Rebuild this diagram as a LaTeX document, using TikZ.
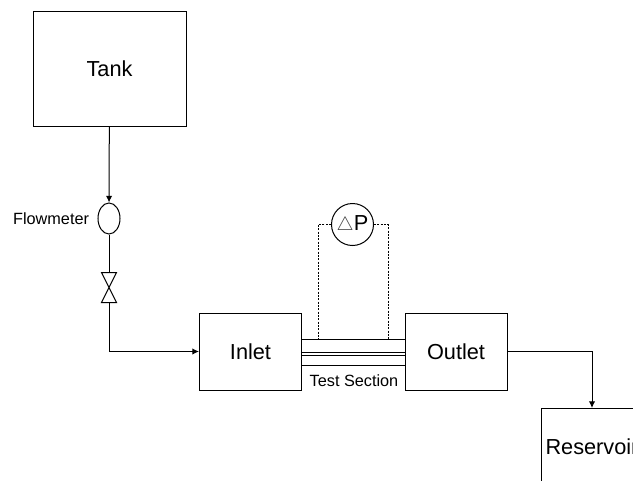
\documentclass[tikz,border=0pt]{standalone}
\usepackage{fontspec}
\setmainfont{Liberation Sans}
\usetikzlibrary{arrows.meta,shapes,positioning,calc}

\tikzset{
  unitbox/.style={rectangle, draw=black, minimum width=76.5pt, minimum height=57.75pt, inner sep=0pt, font=\fontsize{16.3}{18}\selectfont},
  smalltext/.style={inner sep=0pt, font=\fontsize{12.2}{14}\selectfont},
}

\begin{document}
\begin{tikzpicture}[x=0.75pt, y=-0.75pt, >={Latex[length=5pt,width=4.75pt]}, line width=0.75pt]
  \useasboundingbox (0,0) rectangle (633,480);
  \clip (0,0) rectangle (633,480);

  \node[unitbox, minimum width=114.75pt, minimum height=86.25pt] at (109.5,68.5) (tank) {Tank};
  \node[ellipse, draw=black, minimum width=16.5pt, minimum height=23.25pt, inner sep=0pt] at (109,218.5) (fm) {};
  \node[smalltext, left=6pt of fm] (fmlabel) {Flowmeter};
  \node[rectangle, minimum width=10.5pt, minimum height=21.75pt, inner sep=0pt] at (109,287.5) (valve) {};
  \node[unitbox] at (250.5,351.5) (inlet) {Inlet};
  \node[unitbox] at (456,351.5) (outlet) {Outlet};
  \node[unitbox] at (592,447) (res) {Reservoir};
  \node[circle, draw=black, minimum size=31.5pt, inner sep=0pt, font=\fontsize{16.3}{18}\selectfont] at (352.5,224.5) (dp) {\textcolor{darkgray}{\fontsize{14}{16}\selectfont$\triangle$}P};
  \node[smalltext] at (354,380.5) (test) {Test Section};

  \coordinate (tapl) at (318,339);
  \coordinate (tapr) at (388,339);

  \draw[->] (tank)--(fm);
  \draw (fm)--(valve);
  \draw (valve.north west)--(valve.south east)--(valve.south west)--(valve.north east)--cycle;
  \draw[->] (valve.south) |- (inlet.west);
  \draw[->] (outlet.east) -| (res.north);

  \foreach \y in {339,352,355,365}
    \draw (inlet.east |- 0,\y)--(outlet.west |- 0,\y);

  \draw[dash pattern=on 1.5pt off 1pt] (dp.west) -| (tapl);
  \draw[dash pattern=on 1.5pt off 1pt] (dp.east) -| (tapr);
\end{tikzpicture}
\end{document}
